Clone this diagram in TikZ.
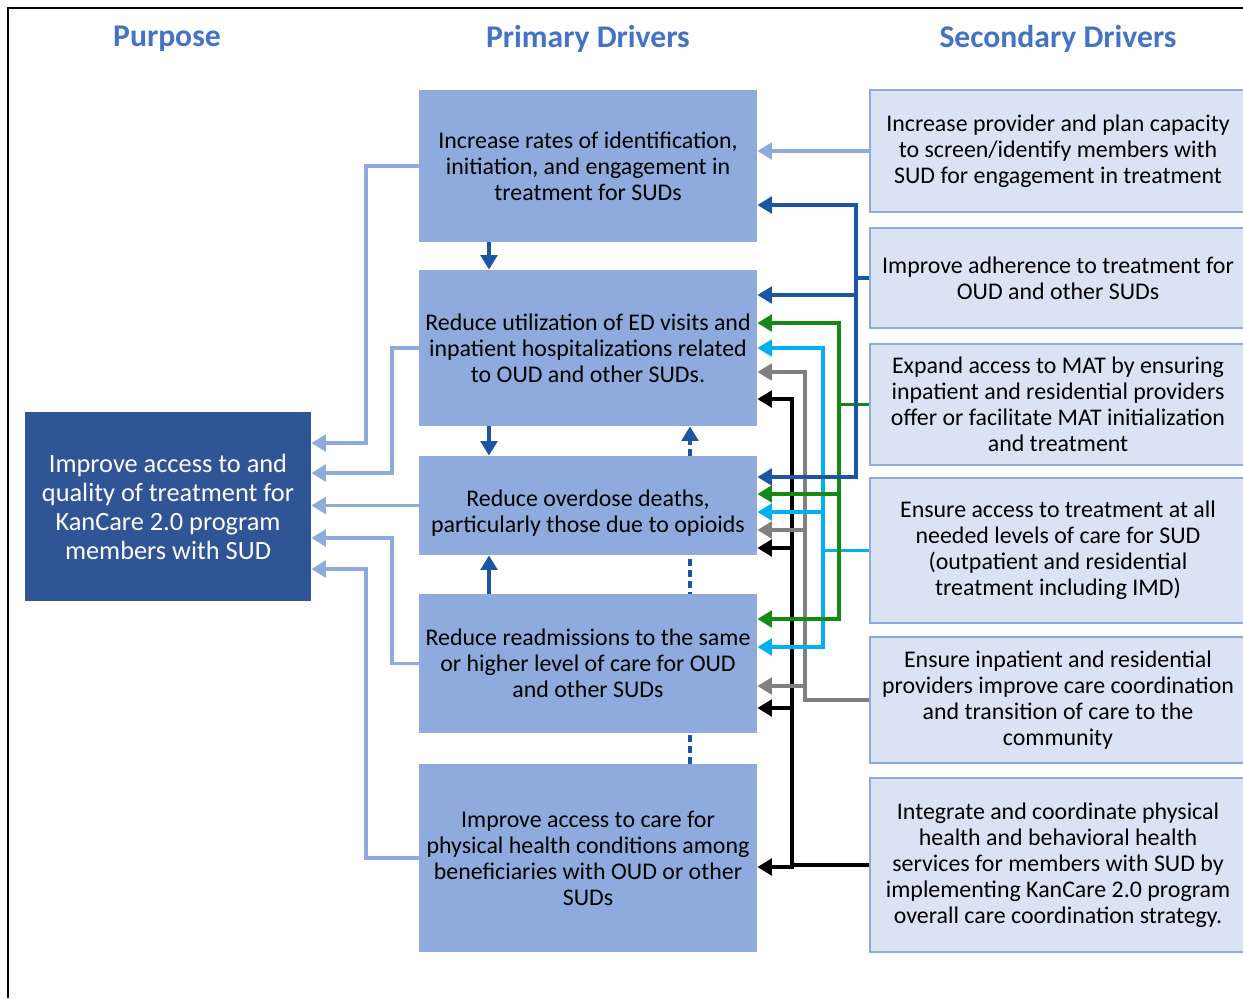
\documentclass[tikz,border=0pt]{standalone}
\usepackage{fontspec}
\setmainfont{Carlito}
\usepackage{tikz}
\usetikzlibrary{
    arrows.meta,
    backgrounds,
    calc,
    positioning,
}
\newdimen\px \px=0.02cm
\definecolor{HeadBlue}{HTML}{4472C4}
\definecolor{PurposeBG}{HTML}{2F5597}
\definecolor{PrimaryBG}{HTML}{8FAADC}
\definecolor{SecondaryBG}{HTML}{DAE3F3}
\definecolor{LinkBlue}{HTML}{1A56A4}
\definecolor{LinkGreen}{HTML}{148A14}
\definecolor{LinkCyan}{HTML}{00B0F0}
\definecolor{LinkGray}{HTML}{808080}
\tikzstyle{header}=[font=\fontsize{18}{20}\selectfont\bfseries,text=HeadBlue]
\tikzstyle{purpose}=[rectangle,fill=PurposeBG,text=white,align=center,inner sep=0pt,minimum width=286\px,minimum height=189\px,font=\fontsize{15}{16.5}\selectfont]
\tikzstyle{primary}=[rectangle,fill=PrimaryBG,align=center,inner sep=0pt,minimum width=338\px,font=\fontsize{13.6}{14.8}\selectfont]
\tikzstyle{secondary}=[rectangle,draw=PrimaryBG,line width=2.4\px,fill=SecondaryBG,align=center,inner sep=0pt,minimum width=376\px,font=\fontsize{13.6}{14.8}\selectfont]
\tikzstyle{conn}=[line width=3.6\px]
\tikzset{
    >={Triangle[length=0.29cm,width=0.33cm]}
}

\begin{document}
\begin{tikzpicture}[x=0.02cm,y=-0.02cm]
    \useasboundingbox (0,0) rectangle (1243,998);
    \clip (0,0) rectangle (1243,998);
    \draw[line width=1.5\px] (8,998) -- (8,8) -- (1243,8);

    % Headings
    \node[header] (purpose head) at (167,39) {Purpose};
    \node[header] (primary head) at (588,39) {Primary Drivers};
    \node[header] (secondary head) at (1058,39) {Secondary Drivers};

    % Boxes
    \node[purpose] (purpose) at (168,506.5) {Improve access to and\\quality of treatment for\\KanCare 2.0 program\\members with SUD};

    \node[primary,minimum height=152\px] (pd1) at (588,166) {Increase rates of identification,\\initiation, and engagement in\\treatment for SUDs};
    \node[primary,minimum height=156\px] (pd2) at (588,348) {Reduce utilization of ED visits and\\inpatient hospitalizations related\\to OUD and other SUDs.};
    \node[primary,minimum height=99\px] (pd3) at (588,505.5) {\rule{0pt}{18pt}Reduce overdose deaths,\\particularly those due to opioids};
    \node[primary,minimum height=139\px] (pd4) at (588,663.5) {Reduce readmissions to the same\\or higher level of care for OUD\\and other SUDs};
    \node[primary,minimum height=188\px] (pd5) at (588,858) {Improve access to care for\\physical health conditions among\\beneficiaries with OUD or other\\SUDs};

    \node[secondary,minimum height=122\px] (sd1) at (1058,151) {Increase provider and plan capacity\\to screen/identify members with\\SUD for engagement in treatment};
    \node[secondary,minimum height=100\px] (sd2) at (1058,278) {Improve adherence to treatment for\\OUD and other SUDs};
    \node[secondary,minimum height=121\px] (sd3) at (1058,404.5) {Expand access to MAT by ensuring\\inpatient and residential providers\\offer or facilitate MAT initialization\\and treatment};
    \node[secondary,minimum height=145\px] (sd4) at (1058,550.5) {Ensure access to treatment at all\\needed levels of care for SUD\\(outpatient and residential\\treatment including IMD)};
    \node[secondary,minimum height=126\px] (sd5) at (1058,700) {Ensure inpatient and residential\\providers improve care coordination\\and transition of care to the\\community};
    \node[secondary,minimum height=174\px] (sd6) at (1058,865) {Integrate and coordinate physical\\health and behavioral health\\services for members with SUD by\\implementing KanCare 2.0 program\\overall care coordination strategy.};

    % Primary -> purpose
    \coordinate (left outer) at (366,0);
    \coordinate (left inner) at (392,0);
    \draw[conn,PrimaryBG,->] (pd1.west) -- (pd1.west -| left outer) |- (purpose.east |- 0,443);
    \draw[conn,PrimaryBG,->] (pd2.west) -- (pd2.west -| left inner) |- (purpose.east |- 0,473);
    \draw[conn,PrimaryBG,->] (pd3.west) -- (purpose.east |- pd3.west);
    \draw[conn,PrimaryBG,->] (pd4.west) -- (pd4.west -| left inner) |- (purpose.east |- 0,538);
    \draw[conn,PrimaryBG,->] (pd5.west) -- (pd5.west -| left outer) |- (purpose.east |- 0,569);

    % Between primary drivers
    \coordinate (down col) at (489,0);
    \coordinate (back col) at (690,0);
    \draw[conn,LinkBlue,->] (pd1.south -| down col) -- (pd2.north -| down col);
    \draw[conn,LinkBlue,->] (pd2.south -| down col) -- (pd3.north -| down col);
    \draw[conn,LinkBlue,->] (pd4.north -| down col) -- (pd3.south -| down col);
    \begin{scope}[on background layer]
        \draw[conn,LinkBlue,dash pattern=on 0.14cm off 0.08cm,->] (pd5.north -| back col) -- (pd2.south -| back col);
    \end{scope}

    % Secondary -> primary
    \coordinate (blue bar) at (856,0);
    \coordinate (green bar) at (839,0);
    \coordinate (cyan bar) at (823,0);
    \coordinate (gray bar) at (805,0);
    \coordinate (black bar) at (792,0);

    \draw[conn,PrimaryBG,->] (sd1.west) -- (pd1.east |- sd1.west);

    \draw[conn,black] (sd6.west) -- (black bar |- sd6.west);
    \draw[conn,black,line cap=rect] (black bar |- 0,399) -- (black bar |- 0,867);
    \foreach \dst/\y in {pd2/399,pd3/548,pd4/708,pd5/867}
        \draw[conn,black,->] (black bar |- 0,\y) -- (\dst.east |- 0,\y);

    \draw[conn,LinkGray] (sd5.west) -- (gray bar |- sd5.west);
    \draw[conn,LinkGray,line cap=rect] (gray bar |- 0,372) -- (gray bar |- 0,700);
    \foreach \dst/\y in {pd2/372,pd3/530,pd4/686}
        \draw[conn,LinkGray,->] (gray bar |- 0,\y) -- (\dst.east |- 0,\y);

    \draw[conn,LinkCyan] (sd4.west) -- (cyan bar |- sd4.west);
    \draw[conn,LinkCyan,line cap=rect] (cyan bar |- 0,348) -- (cyan bar |- 0,647);
    \foreach \dst/\y in {pd2/348,pd3/512,pd4/647}
        \draw[conn,LinkCyan,->] (cyan bar |- 0,\y) -- (\dst.east |- 0,\y);

    \draw[conn,LinkGreen] (sd3.west) -- (green bar |- sd3.west);
    \draw[conn,LinkGreen,line cap=rect] (green bar |- 0,323) -- (green bar |- 0,619);
    \foreach \dst/\y in {pd2/323,pd3/494,pd4/619}
        \draw[conn,LinkGreen,->] (green bar |- 0,\y) -- (\dst.east |- 0,\y);

    \draw[conn,LinkBlue] (sd2.west) -- (blue bar |- sd2.west);
    \draw[conn,LinkBlue,line cap=rect] (blue bar |- 0,205) -- (blue bar |- 0,477);
    \foreach \dst/\y in {pd1/205,pd2/295,pd3/477}
        \draw[conn,LinkBlue,->] (blue bar |- 0,\y) -- (\dst.east |- 0,\y);
\end{tikzpicture}
\end{document}
